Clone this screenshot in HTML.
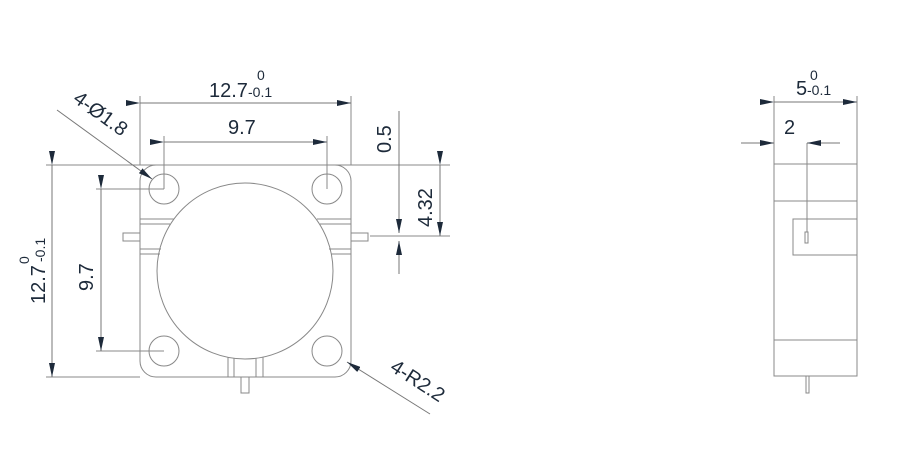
<!DOCTYPE html>
<html><head><meta charset="utf-8"><style>
html,body{margin:0;padding:0;background:#fff;}
svg{display:block;font-family:"Liberation Sans",Arial,sans-serif;}
</style></head><body>
<svg width="900" height="458" viewBox="0 0 900 458">
<defs>
<marker id="a" viewBox="0 0 14 6" refX="14" refY="3" markerWidth="14" markerHeight="6" markerUnits="userSpaceOnUse" orient="auto"><path d="M0,0 L14,3 L0,6 Z" fill="#1d2a3a"/></marker>
</defs>
<g stroke="#888" stroke-width="1" fill="none">
<rect x="140" y="165" width="211" height="212" rx="16"/>
<circle cx="164" cy="189" r="15"/><circle cx="327" cy="189" r="15"/>
<circle cx="164" cy="351" r="15"/><circle cx="327" cy="351" r="15"/>
<circle cx="245" cy="271" r="88"/>
<line x1="140" y1="219" x2="174" y2="219"/><line x1="140" y1="224" x2="170" y2="224"/>
<line x1="140" y1="249" x2="161" y2="249"/><line x1="140" y1="254" x2="160" y2="254"/>
<line x1="317" y1="219" x2="351" y2="219"/><line x1="320" y1="224" x2="351" y2="224"/>
<line x1="329" y1="249" x2="351" y2="249"/><line x1="331" y1="254" x2="351" y2="254"/>
<rect x="123" y="233" width="17" height="8"/>
<rect x="351" y="233" width="17" height="8"/>
<line x1="228" y1="357" x2="228" y2="377"/><line x1="234" y1="358" x2="234" y2="377"/>
<line x1="256" y1="358" x2="256" y2="377"/><line x1="263" y1="357" x2="263" y2="377"/>
<rect x="241" y="377" width="8" height="16"/>
<line x1="140" y1="96" x2="140" y2="165"/><line x1="351" y1="96" x2="351" y2="165"/>
<line x1="164" y1="136" x2="164" y2="189"/><line x1="327" y1="136" x2="327" y2="189"/>
<line x1="46" y1="165" x2="450" y2="165"/><line x1="46" y1="377" x2="140" y2="377"/>
<line x1="96" y1="189" x2="164" y2="189"/><line x1="96" y1="351" x2="164" y2="351"/>
<line x1="370" y1="236" x2="450" y2="236"/>
<rect x="774" y="164" width="83" height="212"/>
<line x1="774" y1="201" x2="857" y2="201"/><line x1="774" y1="340" x2="857" y2="340"/>
<rect x="793" y="219" width="64" height="36"/>
<rect x="805" y="232" width="3" height="11"/>
<rect x="806" y="376" width="3" height="17"/>
<line x1="774" y1="96" x2="774" y2="164"/><line x1="857" y1="96" x2="857" y2="164"/>
<line x1="807" y1="143" x2="807" y2="232"/>
</g>
<g stroke="#777" stroke-width="1" fill="none">
<line x1="140" y1="103" x2="351" y2="103" marker-start="url(#a)" marker-end="url(#a)"/>
<line x1="164" y1="142" x2="327" y2="142" marker-start="url(#a)" marker-end="url(#a)"/>
<line x1="52" y1="165" x2="52" y2="377" marker-start="url(#a)" marker-end="url(#a)"/>
<line x1="101" y1="189" x2="101" y2="351" marker-start="url(#a)" marker-end="url(#a)"/>
<line x1="440" y1="165" x2="440" y2="236" marker-start="url(#a)" marker-end="url(#a)"/>
<line x1="399" y1="111" x2="399" y2="233" marker-end="url(#a)"/>
<line x1="399" y1="274" x2="399" y2="241" marker-end="url(#a)"/>
<line x1="57" y1="110" x2="152" y2="179" marker-end="url(#a)"/>
<line x1="430" y1="414" x2="347" y2="362" marker-end="url(#a)"/>
<line x1="774" y1="102" x2="857" y2="102" marker-start="url(#a)" marker-end="url(#a)"/>
<line x1="741" y1="143" x2="774" y2="143" marker-end="url(#a)"/>
<line x1="840" y1="143" x2="807" y2="143" marker-end="url(#a)"/>
</g>
<g fill="#1d2a3a" font-size="20">
<text x="209" y="97">12.7</text><text x="257" y="80" font-size="14">0</text><text x="248" y="97" font-size="14">-0.1</text>
<text x="228" y="134">9.7</text>
<text transform="translate(391,153) rotate(-90)">0.5</text>
<text transform="translate(432,227) rotate(-90)">4.32</text>
<text transform="translate(45,304) rotate(-90)">12.7</text>
<text transform="translate(29,264) rotate(-90)" font-size="14">0</text>
<text transform="translate(45,262) rotate(-90)" font-size="14">-0.1</text>
<text transform="translate(93,291) rotate(-90)">9.7</text>
<text transform="translate(72,101) rotate(36)">4-Ø1.8</text>
<text transform="translate(389,370) rotate(33)">4-R2.2</text>
<text x="796" y="95">5</text><text x="810" y="80" font-size="14">0</text><text x="807" y="95" font-size="14">-0.1</text>
<text x="784" y="134">2</text>
</g>
</svg>
</body></html>
